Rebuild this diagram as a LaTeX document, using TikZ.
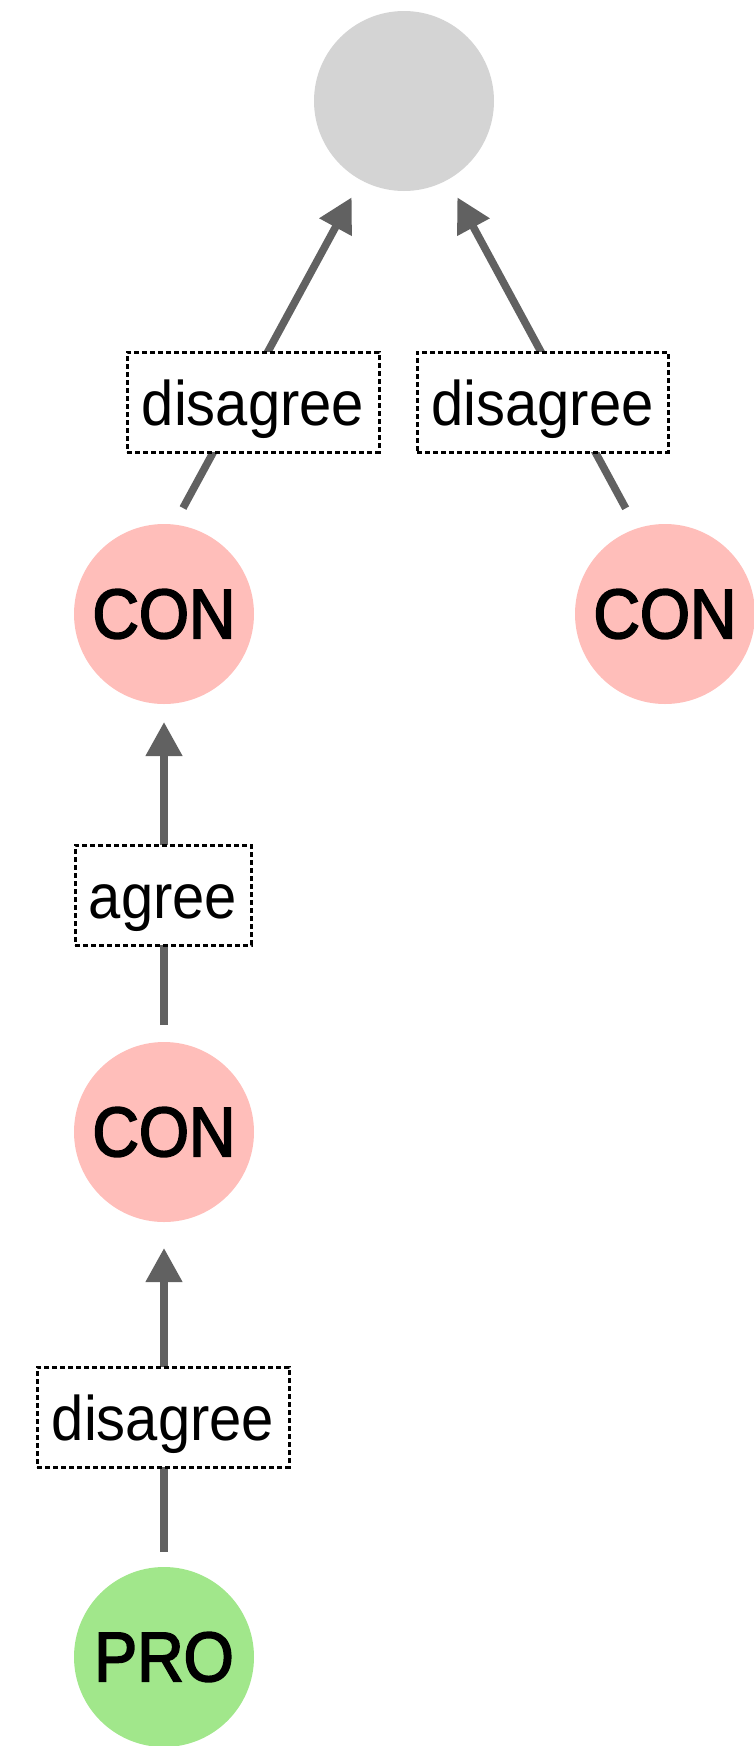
\documentclass[tikz,border=0pt]{standalone}
\usepackage{fontspec}
\setmainfont{Liberation Sans}[FakeStretch=0.92]
\newfontfamily\stancefont{Liberation Sans}[FakeStretch=0.92, FakeBold=2.6]
\usetikzlibrary{arrows.meta,calc,backgrounds}

\definecolor{rootgray}{HTML}{D4D4D4}
\definecolor{conpink}{HTML}{FFBEBA}
\definecolor{progreen}{HTML}{A1E78B}
\definecolor{edgegray}{HTML}{616161}

\tikzset{
  stance/.style={circle, minimum size=180pt, inner sep=0pt,
    font=\stancefont\fontsize{70}{80}\selectfont},
  rootnode/.style={stance, fill=rootgray},
  connode/.style={stance, fill=conpink},
  pronode/.style={stance, fill=progreen},
  relbox/.style={draw=black, line width=3pt, dash pattern=on 5pt off 3pt,
    fill=white, inner sep=0pt, minimum height=100pt,
    text height=52pt, text depth=6pt,
    font=\fontsize{63}{70}\selectfont},
  edge/.style={draw=edgegray, line width=7.6pt,
    -{Triangle[length=34pt, width=35pt]}}
}

\begin{document}
\begin{tikzpicture}[x=1pt, y=-1pt]
  \useasboundingbox (0,0) rectangle (754,1746);

  % stance nodes
  \node[rootnode] (top)  at (404,101)  {};
  \node[connode]  (conL) at (164,614)  {CON};
  \node[connode]  (conR) at (665,614)  {CON};
  \node[connode]  (conM) at (164,1132) {CON};
  \node[pronode]  (pro)  at (164,1657) {PRO};

  % relation labels
  \node[relbox, minimum width=252pt] (lblL) at (253,402)   {disagree};
  \node[relbox, minimum width=251pt] (lblR) at (542.5,402) {disagree};
  \node[relbox, minimum width=176pt] (lblA) at (163,895)   {agree};
  \node[relbox, minimum width=252pt] (lblB) at (163,1417)  {disagree};

  % connector end points
  \coordinate (eLs) at ($(conL)+(19,-106)$);
  \coordinate (eLt) at ($(top)+(-52.3,96.3)$);
  \coordinate (eRs) at ($(conR)+(-39.3,-105.7)$);
  \coordinate (eRt) at ($(top)+(53.3,96.3)$);
  \coordinate (eAs) at ($(conM)+(0,-107)$);
  \coordinate (eAt) at ($(conL)+(0,108)$);
  \coordinate (eBs) at ($(pro)+(0,-105)$);
  \coordinate (eBt) at ($(conM)+(0,116)$);

  \begin{scope}[on background layer]
    \draw[edge] (eLs) -- (eLt);
    \draw[edge] (eRs) -- (eRt);
    \draw[edge] (eAs) -- (eAt);
    \draw[edge] (eBs) -- (eBt);
  \end{scope}
\end{tikzpicture}
\end{document}
